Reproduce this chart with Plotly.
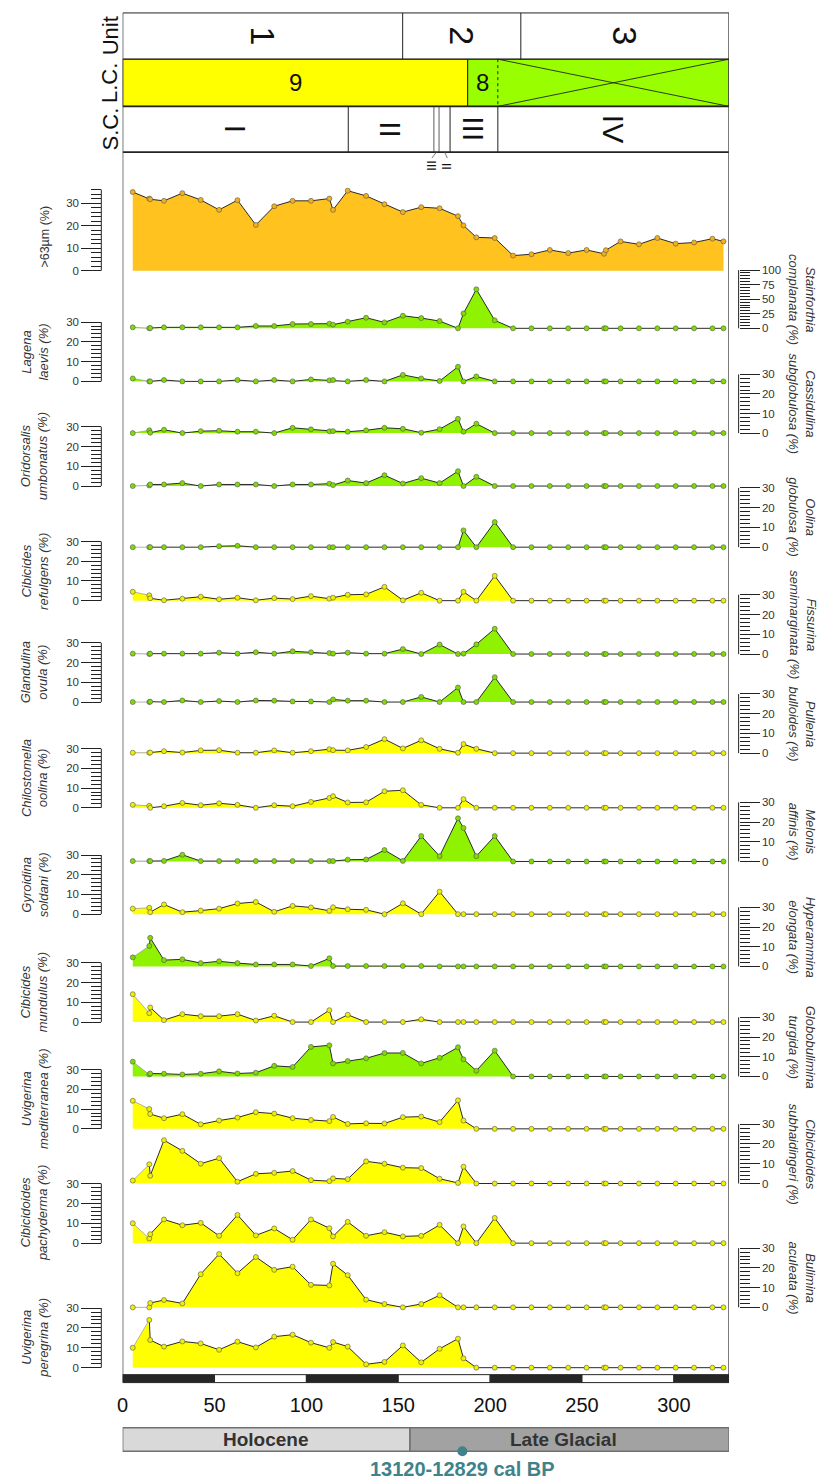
import plotly.graph_objects as go

W, H = 823, 1484

# ---------------- data ----------------
depth = [5.5, 14.5, 15, 22.5, 32.5, 42.5, 52.5, 62.5, 72.5, 82.5, 92.5, 102.5, 112.5, 114.5,
         122.5, 132.5, 142.5, 152.5, 162.5, 172.5, 182.5, 185.5, 192.5, 202.5, 212.5, 222.5,
         232.5, 242.5, 252.5, 262, 263, 271, 281, 291, 301, 311, 321, 327]

sand_63 = [34.9, 32.0, 31.7, 31.0, 34.4, 31.4, 27.0, 31.3, 20.3, 28.6, 31.0, 31.0, 32.0, 27.0,
           35.5, 33.2, 29.5, 26.0, 28.2, 27.7, 24.2, 20.1, 14.8, 14.5, 6.7, 7.3,
           9.2, 7.8, 9.2, 7.5, 9.1, 13.0, 11.7, 14.5, 12.0, 12.5, 14.2, 13.0]

stainforthia_complanata = [1.7, 0, 0.5, 1.7, 1.7, 1.7, 1.7, 1.7, 4.0, 4.0, 7.4, 7.4, 8.0, 6.3,
                           11.4, 18.2, 10.2, 21.6, 17.6, 12.5, 0, 25.6, 67.0, 13.7, 0, 0,
                           0, 0, 0, 0, 0, 0, 0, 0, 0, 0, 0, 0]

lagena_laevis = [1.5, 0, 0, 0.7, 0, 0, 0, 0.7, 0, 0.7, 0, 1.0, 0.5, 0.7,
                 0, 0.7, 0, 3.3, 1.5, 0.2, 7.4, 0, 2.5, 0, 0, 0,
                 0, 0, 0, 0, 0, 0, 0, 0, 0, 0, 0, 0]

cassidulina_subglobulosa = [0, 1.4, 0.2, 1.7, 0, 1.0, 1.2, 0.7, 0.7, 0, 2.7, 1.9, 0.9, 1.0,
                            0.7, 1.4, 2.7, 2.2, 0.2, 2.0, 7.3, 0.7, 4.8, 0, 0, 0,
                            0, 0, 0, 0, 0, 0, 0, 0, 0, 0, 0, 0]

oridorsalis_umbonatus = [0, 0.3, 0.8, 0.8, 1.5, 0, 0.8, 0.8, 0.8, 0, 0.8, 0.8, 1.2, 0.5,
                         2.8, 1.5, 5.5, 1.3, 4.0, 1.5, 7.5, 0, 4.7, 0, 0, 0,
                         0, 0, 0, 0, 0, 0, 0, 0, 0, 0, 0, 0]

oolina_globulosa = [0, 0, 0, 0, 0, 0, 0.5, 0.7, 0, 0, 0, 0, 0, 0,
                    0, 0, 0, 0, 0, 0, 0, 8.5, 0, 12.7, 0, 0,
                    0, 0, 0, 0, 0, 0, 0, 0, 0, 0, 0, 0]

cibicides_refulgens = [4.5, 2.7, 1.2, 0.2, 1.0, 2.0, 0.7, 1.5, 0.2, 1.3, 0.8, 2.3, 1.0, 1.5,
                       3.0, 3.2, 7.0, 0.2, 4.0, 0, 0, 4.5, 0, 12.6, 0, 0,
                       0, 0, 0, 0, 0, 0, 0, 0, 0, 0, 0, 0]

fissurina_semimarginata = [0.2, 0, 0.2, 0.2, 0.2, 0.2, 0.7, 0.2, 0.9, 0.2, 1.4, 0.9, 0.5, 0.2,
                           0.7, 0.2, 0.2, 2.5, 0, 4.8, 0, 0.2, 4.9, 12.8, 0, 0,
                           0, 0, 0, 0, 0, 0, 0, 0, 0, 0, 0, 0]

glandulina_ovula = [0, 0, 0.2, 0, 0.8, 0, 0.5, 0, 0.8, 0.7, 0.3, 0.3, 0, 1.3,
                    0.7, 0.7, 0, 0, 2.6, 0, 7.4, 0, 0, 12.6, 0, 0,
                    0, 0, 0, 0, 0, 0, 0, 0, 0, 0, 0, 0]

pullenia_bulloides = [0.2, 0.2, 0.3, 1.0, 0.3, 1.4, 1.5, 0.2, 0.2, 1.4, 0.2, 1.0, 2.0, 1.5,
                      1.4, 3.1, 7.1, 2.4, 6.5, 2.2, 0.2, 4.6, 2.2, 0, 0, 0,
                      0, 0, 0, 0, 0, 0, 0, 0, 0, 0, 0, 0]

chilostomella_oolina = [1.5, 1.0, 0, 0.8, 2.5, 1.3, 2.3, 1.5, 0, 1.3, 0.8, 3.0, 5.0, 5.9,
                        2.7, 2.8, 8.4, 8.9, 1.5, 0, 0, 4.4, 0, 0, 0, 0,
                        0, 0, 0, 0, 0, 0, 0, 0, 0, 0, 0, 0]

melonis_affinis = [0.2, 0.2, 0.2, 0.3, 3.4, 0.2, 0.2, 0.2, 0.2, 0.2, 0.2, 0.2, 0.2, 0.2,
                   0.9, 1.0, 5.8, 0.3, 12.9, 2.7, 21.9, 17.0, 2.7, 12.9, 0, 0,
                   0, 0, 0, 0, 0, 0, 0, 0, 0, 0, 0, 0]

gyroidina_soldani = [2.8, 3.2, 1.0, 4.9, 1.0, 1.8, 2.8, 5.4, 6.2, 1.2, 4.2, 3.4, 1.7, 3.5,
                     2.5, 2.2, 0, 5.5, 0, 11.4, 0, 0, 0, 0, 0, 0,
                     0, 0, 0, 0, 0, 0, 0, 0, 0, 0, 0, 0]

hyperammina_elongata = [4.6, 10.4, 14.5, 3.2, 3.6, 1.7, 2.6, 1.7, 1.0, 1.0, 1.0, 0.2, 4.1, 0.2,
                        0.2, 0.2, 0.2, 0.2, 0.2, 0, 0, 0, 0, 0, 0, 0,
                        0, 0, 0, 0, 0, 0, 0, 0, 0, 0, 0, 0]

cibicides_mundulus = [14.1, 4.5, 7.4, 1.0, 4.0, 3.0, 3.0, 4.0, 0.8, 3.2, 0, 0, 6.0, 0,
                      3.7, 0, 0, 0, 1.4, 0, 0, 0, 0, 0, 0, 0,
                      0, 0, 0, 0, 0, 0, 0, 0, 0, 0, 0, 0]

globobulimina_turgida = [7.5, 1.0, 1.5, 1.4, 1.0, 1.4, 2.6, 1.5, 1.9, 5.4, 4.8, 15.0, 15.8, 6.6,
                         7.8, 9.2, 11.9, 11.9, 6.6, 9.5, 14.8, 8.7, 2.9, 13.1, 0, 0,
                         0, 0, 0, 0, 0, 0, 0, 0, 0, 0, 0, 0]

uvigerina_mediterranea = [14.2, 10.0, 7.5, 5.4, 7.4, 2.3, 4.2, 5.7, 8.4, 7.7, 5.4, 4.5, 3.9, 6.0,
                          2.5, 2.8, 2.7, 5.9, 6.2, 3.4, 14.4, 4.2, 0, 0, 0, 0,
                          0, 0, 0, 0, 0, 0, 0, 0, 0, 0, 0, 0]

cibicidoides_subhaidingeri = [1.5, 9.7, 3.9, 21.9, 16.5, 10.0, 12.8, 0.9, 4.9, 5.4, 6.3, 1.7, 1.2, 2.6,
                              2.2, 11.2, 10.0, 8.0, 7.8, 2.4, 0.3, 8.5, 0, 0, 0, 0,
                              0, 0, 0, 0, 0, 0, 0, 0, 0, 0, 0, 0]

cibicidoides_pachyderma = [10.0, 2.3, 4.5, 11.9, 9.0, 10.2, 3.7, 14.2, 3.9, 7.4, 1.7, 11.9, 7.5, 3.4,
                           10.7, 3.7, 5.5, 3.4, 3.7, 9.2, 0, 8.4, 0, 12.7, 0, 0,
                           0, 0, 0, 0, 0, 0, 0, 0, 0, 0, 0, 0]

bulimina_aculeata = [0, 0, 2.2, 3.7, 2.0, 16.8, 27.0, 17.3, 25.5, 19.0, 20.6, 11.4, 11.1, 22.1,
                     16.3, 3.9, 1.7, 0, 1.7, 6.1, 0, 0, 0, 0, 0, 0,
                     0, 0, 0, 0, 0, 0, 0, 0, 0, 0, 0, 0]

uvigerina_peregrina = [10.0, 24.0, 13.9, 10.6, 13.2, 12.2, 9.0, 13.1, 10.2, 15.6, 16.6, 12.6, 10.0, 12.9,
                       10.6, 1.7, 2.9, 11.2, 2.7, 9.5, 14.6, 4.7, 0, 0, 0, 0,
                       0, 0, 0, 0, 0, 0, 0, 0, 0, 0, 0, 0]

x_ticks = [0, 50, 100, 150, 200, 250, 300]
x_range = [0, 330]

# header zonation (same units as depth)
unit_bounds = [152.4, 216.7]
unit_labels = ["1", "2", "3"]
lc_bounds = [187.8, 204.2]
lc_labels = ["9", "8"]
sc_bounds = [122.8, 169.4, 172.2, 178.2, 204.2]
sc_labels = ["I", "II", "III", "IV"]
sc_minor_labels = ["III", "II"]
holocene_end = 156.4
date_depth = 184.9
date_label = "13120-12829 cal BP"

# ---------------- styling ----------------
ORANGE = "#FFC21E"
GREEN = "#8FF200"
YELLOW = "#FFFF00"
MARK = {ORANGE: "#F2B01A", GREEN: "#7FDB00", YELLOW: "#EFEF00"}
FONT = "Liberation Sans, Arial, sans-serif"
INK = "#222222"


def it(a, b):
    return f"<i>{a}</i><br><i>{b} (%)</i>"


# label, values, colour, side, pixel row of 0, pixel length of axis, axis max, major, minor
panels = [
    (">63µm (%)", sand_63, ORANGE, "left", 267.3, 81.6, 36, 10, 2),
    (it("Stainforthia", "complanata"), stainforthia_complanata, GREEN, "right", 325.3, 58.6, 100, 25, 5),
    (it("Lagena", "laevis"), lagena_laevis, GREEN, "left", 378.7, 59.7, 30, 10, 2),
    (it("Cassidulina", "subglobulosa"), cassidulina_subglobulosa, GREEN, "right", 430.7, 59.0, 30, 10, 2),
    (it("Oridorsalis", "umbonatus"), oridorsalis_umbonatus, GREEN, "left", 484.0, 59.7, 30, 10, 2),
    (it("Oolina", "globulosa"), oolina_globulosa, GREEN, "right", 545.5, 59.7, 30, 10, 2),
    (it("Cibicides", "refulgens"), cibicides_refulgens, YELLOW, "left", 599.3, 59.5, 30, 10, 2),
    (it("Fissurina", "semimarginata"), fissurina_semimarginata, GREEN, "right", 653.0, 59.7, 30, 10, 2),
    (it("Glandulina", "ovula"), glandulina_ovula, GREEN, "left", 701.3, 59.5, 30, 10, 2),
    (it("Pullenia", "bulloides"), pullenia_bulloides, YELLOW, "right", 752.7, 59.5, 30, 10, 2),
    (it("Chilostomella", "oolina"), chilostomella_oolina, YELLOW, "left", 807.7, 59.5, 30, 10, 2),
    (it("Melonis", "affinis"), melonis_affinis, GREEN, "right", 861.7, 59.5, 30, 10, 2),
    (it("Gyroidina", "soldani"), gyroidina_soldani, YELLOW, "left", 914.7, 59.5, 30, 10, 2),
    (it("Hyperammina", "elongata"), hyperammina_elongata, GREEN, "right", 967.3, 59.5, 30, 10, 2),
    (it("Cibicides", "mundulus"), cibicides_mundulus, YELLOW, "left", 1023.3, 59.7, 30, 10, 2),
    (it("Globobulimina", "turgida"), globobulimina_turgida, GREEN, "right", 1078.0, 59.5, 30, 10, 2),
    (it("Uvigerina", "mediterranea"), uvigerina_mediterranea, YELLOW, "left", 1130.7, 59.7, 30, 10, 2),
    (it("Cibicidoides", "subhaidingeri"), cibicidoides_subhaidingeri, YELLOW, "right", 1185.7, 59.7, 30, 10, 2),
    (it("Cibicidoides", "pachyderma"), cibicidoides_pachyderma, YELLOW, "left", 1245.7, 60.0, 30, 10, 2),
    (it("Bulimina", "aculeata"), bulimina_aculeata, YELLOW, "right", 1310.3, 59.6, 30, 10, 2),
    (it("Uvigerina", "peregrina"), uvigerina_peregrina, YELLOW, "left", 1371.0, 60.0, 30, 10, 2),
]

LEFT_AXIS_PX, RIGHT_AXIS_PX = 96, 738
FRAME_L, FRAME_R = 117.5, 728.3
ROWS = [8, 54.5, 102, 148]
FRAME_BOTTOM = 1386
BAR_TOP = 1378


def pxx(p):
    return p / W


def pxy(p):
    return 1 - p / H


fig = go.Figure()
shapes = []
annotations = []
common = dict(xaxis="x", hoverinfo="skip", showlegend=False)

for i, (label, vals, colour, side, zero_px, len_px, vmax, major, minor) in enumerate(panels):
    n = i + 1
    ref = "y" if n == 1 else f"y{n}"
    key = "yaxis" if n == 1 else f"yaxis{n}"
    ppu = len_px / vmax
    pos_px = LEFT_AXIS_PX if side == "left" else RIGHT_AXIS_PX

    # filled silhouette
    fig.add_trace(go.Scatter(x=depth, y=vals, yaxis=ref, mode="lines", fill="tozeroy",
                             fillcolor=colour, line=dict(width=0, color=colour), **common))
    if n == 1:
        fig.add_trace(go.Scatter(x=depth, y=vals, yaxis=ref, mode="lines",
                                 line=dict(color="#2a2a2a", width=1), **common))
    else:
        # top sample joined by a faint link, remaining profile in dark ink
        fig.add_trace(go.Scatter(x=depth[:2], y=vals[:2], yaxis=ref, mode="lines",
                                 line=dict(color="#a0a0a0", width=0.8), **common))
        fig.add_trace(go.Scatter(x=depth[1:], y=vals[1:], yaxis=ref, mode="lines",
                                 line=dict(color="#2a2a2a", width=1), **common))
    fig.add_trace(go.Scatter(x=depth, y=vals, yaxis=ref, mode="markers",
                             marker=dict(size=5, color=MARK[colour], line=dict(color="#555555", width=0.6)),
                             cliponaxis=False, **common))

    fig.update_layout(**{key: dict(
        domain=[pxy(zero_px + 2), pxy(zero_px - len_px - 0.6)],
        range=[-2 / ppu, vmax + 0.6 / ppu],
        anchor="free", position=pxx(pos_px), side=side,
        showgrid=False, zeroline=False, showline=False,
        tickmode="linear", tick0=0, dtick=major,
        ticks="outside", ticklen=20, tickwidth=1, tickcolor=INK,
        minor=dict(ticks="outside", tick0=0, dtick=minor, ticklen=10,
                   tickwidth=1, tickcolor=INK, showgrid=False),
        tickfont=dict(family=FONT, size=11.5, color="#333333"),
        fixedrange=True,
    )})

    # ruler spine from 0 to the axis maximum
    shapes.append(dict(type="line", xref="paper", yref=ref,
                       x0=pxx(pos_px), x1=pxx(pos_px), y0=0, y1=vmax,
                       line=dict(color=INK, width=1)))

    # title centred on the 0-30 (or full) span
    span_top = 30 if vmax == 36 else vmax
    centre_px = zero_px - span_top * ppu / 2
    if side == "left":
        tx = 39 if n == 1 else 29
        ang = -90
    else:
        tx = 802
        ang = 90
    annotations.append(dict(text=label, x=pxx(tx), y=pxy(centre_px), xref="paper", yref="paper",
                            showarrow=False, textangle=ang,
                            font=dict(family=FONT, size=12.5 if n == 1 else 13, color="#333333")))

# shared depth axis
fig.update_layout(xaxis=dict(
    domain=[pxx(FRAME_L), pxx(FRAME_R)], range=x_range,
    anchor="free", position=pxy(FRAME_BOTTOM),
    showgrid=False, zeroline=False, showline=False, ticks="",
    tickmode="array", tickvals=x_ticks, ticktext=[str(v) for v in x_ticks],
    tickfont=dict(family=FONT, size=20, color="#111111"),
    ticklabelstandoff=8, fixedrange=True,
))

# ---------------- frame & header ----------------
line_k = dict(color=INK, width=1)
for k, yy in enumerate(ROWS):
    shapes.append(dict(type="line", xref="x", yref="paper", x0=x_range[0], x1=x_range[1],
                       y0=pxy(yy), y1=pxy(yy), line=dict(color=INK, width=1.8 if k >= 2 else 1)))
for xv in x_range:
    shapes.append(dict(type="line", xref="x", yref="paper", x0=xv, x1=xv,
                       y0=pxy(ROWS[0]), y1=pxy(FRAME_BOTTOM), line=dict(color="#444444", width=1.4)))

# unit row
for b in unit_bounds:
    shapes.append(dict(type="line", xref="x", yref="paper", x0=b, x1=b,
                       y0=pxy(ROWS[0]), y1=pxy(ROWS[1]), line=line_k))
edges = [x_range[0]] + unit_bounds + [x_range[1]]
for k, lab in enumerate(unit_labels):
    annotations.append(dict(text=lab, x=(edges[k] + edges[k + 1]) / 2, y=pxy((ROWS[0] + ROWS[1]) / 2),
                            xref="x", yref="paper", showarrow=False, textangle=90,
                            font=dict(family=FONT, size=34, color="#111111")))

# L.C. row
shapes.append(dict(type="rect", xref="x", yref="paper", x0=x_range[0], x1=lc_bounds[0],
                   y0=pxy(ROWS[2]), y1=pxy(ROWS[1]), fillcolor="#FFFF00", line=line_k, layer="below"))
shapes.append(dict(type="rect", xref="x", yref="paper", x0=lc_bounds[0], x1=x_range[1],
                   y0=pxy(ROWS[2]), y1=pxy(ROWS[1]), fillcolor="#99FF00", line=line_k, layer="below"))
shapes.append(dict(type="line", xref="x", yref="paper", x0=lc_bounds[1], x1=lc_bounds[1],
                   y0=pxy(ROWS[1]), y1=pxy(ROWS[2]), line=dict(color=INK, width=1, dash="dot")))
shapes.append(dict(type="line", xref="x", yref="paper", x0=lc_bounds[1], x1=x_range[1],
                   y0=pxy(ROWS[1]), y1=pxy(ROWS[2]), line=dict(color=INK, width=0.9)))
shapes.append(dict(type="line", xref="x", yref="paper", x0=lc_bounds[1], x1=x_range[1],
                   y0=pxy(ROWS[2]), y1=pxy(ROWS[1]), line=dict(color=INK, width=0.9)))
lc_edges = [x_range[0]] + lc_bounds
for k, lab in enumerate(lc_labels):
    annotations.append(dict(text=lab, x=(lc_edges[k] + lc_edges[k + 1]) / 2, y=pxy((ROWS[1] + ROWS[2]) / 2),
                            xref="x", yref="paper", showarrow=False,
                            font=dict(family=FONT, size=24, color="#111111")))

# S.C. row
for k, b in enumerate(sc_bounds):
    thin = k in (1, 2)
    shapes.append(dict(type="line", xref="x", yref="paper", x0=b, x1=b,
                       y0=pxy(ROWS[2]), y1=pxy(ROWS[3]),
                       line=dict(color="#333333" if thin else INK, width=0.8 if thin else 1)))
sc_spans = [(x_range[0], sc_bounds[0]), (sc_bounds[0], sc_bounds[1]),
            (sc_bounds[3], sc_bounds[4]), (sc_bounds[4], x_range[1])]
for (a, b), lab in zip(sc_spans, sc_labels):
    annotations.append(dict(text=lab, x=(a + b) / 2, y=pxy((ROWS[2] + ROWS[3]) / 2),
                            xref="x", yref="paper", showarrow=False, textangle=90,
                            font=dict(family=FONT, size=30, color="#111111")))
minor_spans = [(sc_bounds[1], sc_bounds[2]), (sc_bounds[2], sc_bounds[3])]
for (a, b), lab, dx in zip(minor_spans, sc_minor_labels, (-2.5, 1.5)):
    mid = (a + b) / 2
    shapes.append(dict(type="line", xref="x", yref="paper", x0=mid, x1=mid + dx,
                       y0=pxy(ROWS[3]), y1=pxy(ROWS[3] + 6), line=dict(color="#555555", width=0.8)))
    annotations.append(dict(text=lab, x=mid + dx, y=pxy(ROWS[3] + 14), xref="x", yref="paper",
                            showarrow=False, textangle=90,
                            font=dict(family=FONT, size=13, color="#111111")))

for lab, k in (("Unit", 0), ("L.C.", 1), ("S.C.", 2)):
    annotations.append(dict(text=lab, x=pxx(105), y=pxy((ROWS[k] + ROWS[k + 1]) / 2),
                            xref="paper", yref="paper", showarrow=False, textangle=-90,
                            font=dict(family=FONT, size=22, color="#111111")))

# ---------------- bottom scale bar & chronology ----------------
for k in range(len(x_ticks)):
    a = x_ticks[k]
    b = x_ticks[k + 1] if k + 1 < len(x_ticks) else x_range[1]
    shapes.append(dict(type="rect", xref="x", yref="paper", x0=a, x1=b,
                       y0=pxy(FRAME_BOTTOM), y1=pxy(BAR_TOP),
                       fillcolor="#262626" if k % 2 == 0 else "#FFFFFF",
                       line=dict(color="#262626", width=1)))

CH_TOP, CH_BOT = 1431.5, 1455
shapes.append(dict(type="rect", xref="x", yref="paper", x0=x_range[0], x1=holocene_end,
                   y0=pxy(CH_BOT), y1=pxy(CH_TOP), fillcolor="#D9D9D9",
                   line=dict(color="#707070", width=1.5)))
shapes.append(dict(type="rect", xref="x", yref="paper", x0=holocene_end, x1=x_range[1],
                   y0=pxy(CH_BOT), y1=pxy(CH_TOP), fillcolor="#A2A2A2",
                   line=dict(color="#707070", width=1.5)))
annotations.append(dict(text="<b>Holocene</b>", x=(x_range[0] + holocene_end) / 2,
                        y=pxy((CH_TOP + CH_BOT) / 2), xref="x", yref="paper", showarrow=False,
                        font=dict(family=FONT, size=19, color="#333333")))
annotations.append(dict(text="<b>Late Glacial</b>", x=240, y=pxy((CH_TOP + CH_BOT) / 2),
                        xref="x", yref="paper", showarrow=False,
                        font=dict(family=FONT, size=19, color="#333333")))
TEAL = "#3F8289"
shapes.append(dict(type="circle", xref="x", yref="paper", xsizemode="pixel", ysizemode="pixel",
                   xanchor=date_depth, yanchor=pxy(CH_BOT), x0=-5, x1=5, y0=-5, y1=5,
                   fillcolor=TEAL, line=dict(color=TEAL, width=0)))
annotations.append(dict(text=f"<b>{date_label}</b>", x=date_depth, y=pxy(1473), xref="x",
                        yref="paper", showarrow=False,
                        font=dict(family=FONT, size=20, color=TEAL)))

# every label is placed by its centre
for a in annotations:
    a.setdefault("xanchor", "center")
    a.setdefault("yanchor", "middle")

fig.update_layout(
    width=W, height=H, margin=dict(l=0, r=0, t=0, b=0),
    paper_bgcolor="white", plot_bgcolor="rgba(0,0,0,0)",
    font=dict(family=FONT, color=INK),
    shapes=shapes, annotations=annotations, showlegend=False,
)

fig.write_html("out.html")
